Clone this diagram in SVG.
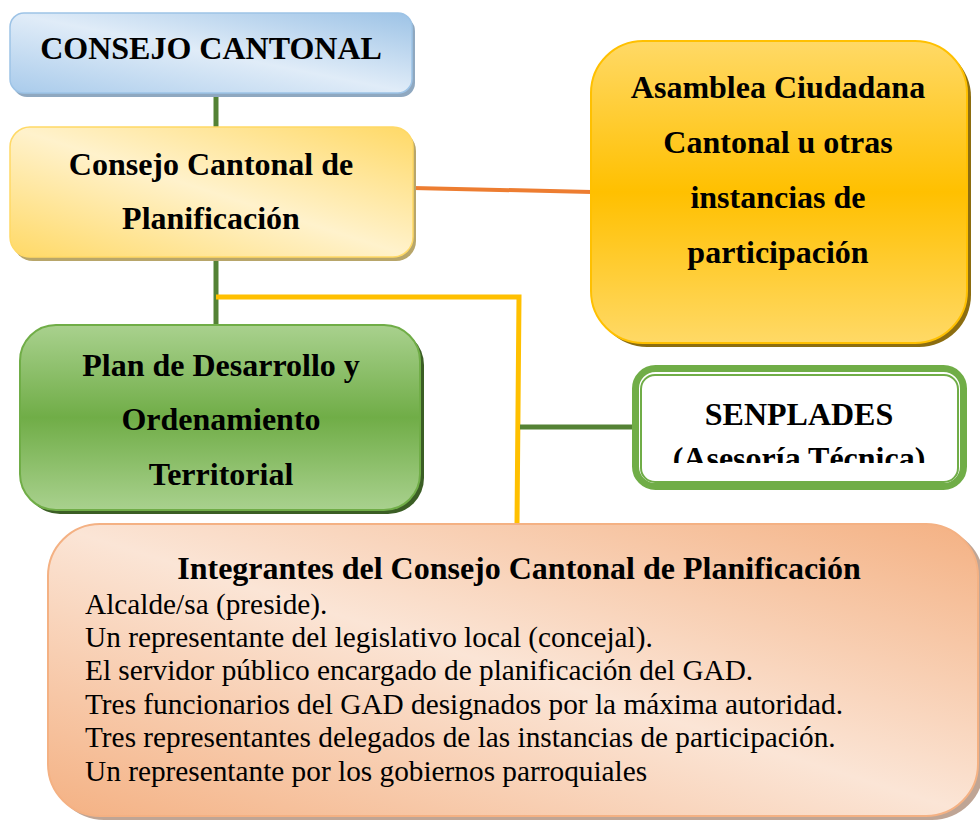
<svg xmlns="http://www.w3.org/2000/svg" width="980" height="820" viewBox="0 0 980 820">
<defs>
<linearGradient id="gBlue" x1="0" y1="1" x2="1" y2="0">
<stop offset="0" stop-color="#A9CBEB"/><stop offset="0.5" stop-color="#E0ECF8"/><stop offset="1" stop-color="#9DC3E6"/>
</linearGradient>
<linearGradient id="gYel" x1="0" y1="1" x2="1" y2="0">
<stop offset="0" stop-color="#FFD966"/><stop offset="0.5" stop-color="#FFF2CC"/><stop offset="1" stop-color="#FFD966"/>
</linearGradient>
<linearGradient id="gGold" x1="0" y1="0" x2="0" y2="1">
<stop offset="0" stop-color="#FFD966"/><stop offset="0.5" stop-color="#FFC000"/><stop offset="1" stop-color="#FFD966"/>
</linearGradient>
<linearGradient id="gGreen" x1="0" y1="0" x2="0" y2="1">
<stop offset="0" stop-color="#A9D18E"/><stop offset="0.5" stop-color="#70AD47"/><stop offset="1" stop-color="#A9D18E"/>
</linearGradient>
<linearGradient id="gPeach" x1="0" y1="1" x2="1" y2="0">
<stop offset="0" stop-color="#F4B183"/><stop offset="0.5" stop-color="#FBE5D6"/><stop offset="1" stop-color="#F4B183"/>
</linearGradient>
<clipPath id="clipSen"><rect x="640" y="375" width="318" height="88"/></clipPath>
</defs>
<style>
.t{font-family:"Liberation Serif","Times New Roman",serif;font-weight:bold;fill:#000;text-anchor:middle;font-size:32px}
.b{font-family:"Liberation Serif","Times New Roman",serif;fill:#000;font-size:29.3px}
.c{fill:none;stroke-linecap:butt}
</style>
<rect width="980" height="820" fill="#fff"/>

<g id="connectors">
<line class="c" x1="216" y1="93" x2="216" y2="128" stroke="#548235" stroke-width="5"/>
<line class="c" x1="216" y1="257" x2="216" y2="324" stroke="#548235" stroke-width="5"/>
<line class="c" x1="413" y1="188" x2="592" y2="192" stroke="#ED7D31" stroke-width="4"/>
<polyline class="c" points="216,297 519,297 517,524" stroke="#FFC000" stroke-width="5"/>
<line class="c" x1="520" y1="427" x2="633" y2="427" stroke="#548235" stroke-width="5"/>
</g>

<g id="consejo-cantonal">
<rect x="13" y="17" width="402" height="80" rx="14" fill="#8FA8C0"/>
<rect x="10" y="13" width="402" height="80" rx="14" fill="url(#gBlue)" stroke="#9DC3E6" stroke-width="1.5"/>
<text class="t" x="211" y="59">CONSEJO CANTONAL</text>
</g>

<g id="consejo-planificacion">
<rect x="13" y="131" width="403" height="130" rx="20" fill="#B8A66A"/>
<rect x="10" y="127" width="403" height="130" rx="20" fill="url(#gYel)" stroke="#FFD966" stroke-width="1.5"/>
<text class="t" x="211" y="175">Consejo Cantonal de</text>
<text class="t" x="211" y="229">Planificación</text>
</g>

<g id="asamblea">
<rect x="595" y="45" width="376" height="302" rx="52" fill="#8C6D10"/>
<rect x="591" y="41" width="376" height="302" rx="52" fill="url(#gGold)" stroke="#FFC000" stroke-width="2"/>
<text class="t" x="778" y="98">Asamblea Ciudadana</text>
<text class="t" x="778" y="153">Cantonal u otras</text>
<text class="t" x="778" y="208">instancias de</text>
<text class="t" x="778" y="263">participación</text>
</g>

<g id="plan">
<rect x="24" y="329" width="400" height="185" rx="36" fill="#3B5E25"/>
<rect x="20" y="325" width="400" height="185" rx="36" fill="url(#gGreen)" stroke="#70AD47" stroke-width="2"/>
<text class="t" x="221" y="376">Plan de Desarrollo y</text>
<text class="t" x="221" y="430">Ordenamiento</text>
<text class="t" x="221" y="485">Territorial</text>
</g>

<g id="senplades">
<rect x="635.5" y="368.5" width="328" height="118" rx="20" fill="#fff" stroke="#70AD47" stroke-width="7"/>
<rect x="641" y="375" width="317" height="107" rx="14" fill="none" stroke="#70AD47" stroke-width="2"/>
<text class="t" x="799" y="425">SENPLADES</text>
<g clip-path="url(#clipSen)"><text class="t" x="799" y="469">(Asesoría Técnica)</text></g>
</g>

<g id="integrantes">
<rect x="52" y="528" width="932" height="292" rx="52" fill="#BFA595"/>
<rect x="48" y="524" width="930" height="292" rx="52" fill="url(#gPeach)" stroke="#F4B183" stroke-width="2"/>
<text class="t" x="519" y="579">Integrantes del Consejo Cantonal de Planificación</text>
<text class="b" x="85" y="614">Alcalde/sa (preside).</text>
<text class="b" x="85" y="647">Un representante del legislativo local (concejal).</text>
<text class="b" x="85" y="680">El servidor público encargado de planificación del GAD.</text>
<text class="b" x="85" y="714">Tres funcionarios del GAD designados por la máxima autoridad.</text>
<text class="b" x="85" y="747">Tres representantes delegados de las instancias de participación.</text>
<text class="b" x="85" y="781">Un representante por los gobiernos parroquiales</text>
</g>
</svg>
